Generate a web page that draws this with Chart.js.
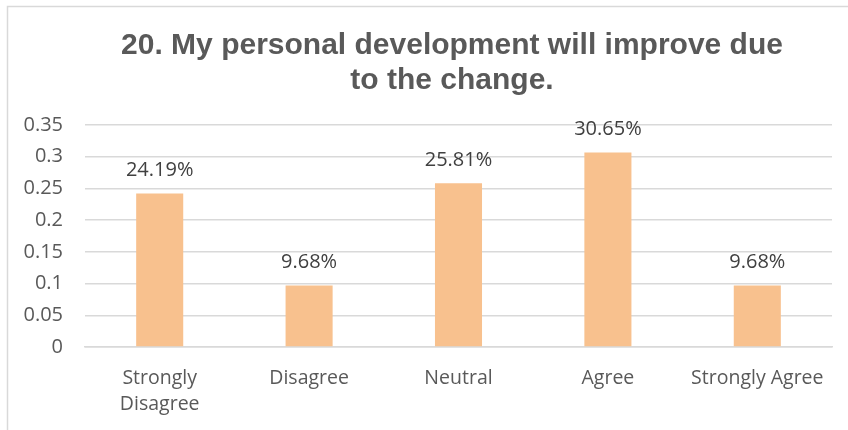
<!DOCTYPE html>
<html>
<head>
<meta charset="utf-8">
<script src="https://cdn.jsdelivr.net/npm/chart.js@4.4.1/dist/chart.umd.min.js"></script>
<style>
  html, body { margin: 0; padding: 0; background: #fff; }
  #wrap { width: 848px; height: 430px; }
</style>
</head>
<body>
<div id="wrap"><canvas id="myChart" width="848" height="430"></canvas></div>
<script>
const categories = [['Strongly', 'Disagree'], 'Disagree', 'Neutral', 'Agree', 'Strongly Agree'];
const shares = [0.2419, 0.0968, 0.2581, 0.3065, 0.0968];
const shareLabels = ['24.19%', '9.68%', '25.81%', '30.65%', '9.68%'];
const titleLines = ['20. My personal development will improve due', 'to the change.'];

const gridColor = '#d9d9d9';
const textColor = '#595959';
const bodyFont = '"Open Sans", Lato, sans-serif';

// light frame on the left and top edges, plus the two-line heading
const framePlugin = {
    id: 'frame',
    beforeDraw(chart) {
        const c = chart.ctx;
        c.save();
        c.strokeStyle = '#d9d9d9';
        c.lineWidth = 1.5;
        c.beginPath();
        c.moveTo(7.5, chart.height);
        c.lineTo(7.5, 6.5);
        c.lineTo(chart.width, 6.5);
        c.stroke();

        c.font = 'bold 30px "Liberation Sans", Arial, sans-serif';
        c.fillStyle = textColor;
        c.textAlign = 'center';
        c.textBaseline = 'middle';
        titleLines.forEach((line, i) => c.fillText(line, 452, 46 + i * 35));
        c.restore();
    }
};

// percentage text above every bar
const valueLabels = {
    id: 'valueLabels',
    afterDatasetsDraw(chart) {
        const c = chart.ctx;
        const meta = chart.getDatasetMeta(0);
        c.save();
        c.font = '20px ' + bodyFont;
        c.fillStyle = '#404040';
        c.textAlign = 'center';
        c.textBaseline = 'middle';
        meta.data.forEach((bar, i) => {
            c.fillText(shareLabels[i], bar.x, bar.y - 23);
        });
        c.restore();
    }
};

const ctx = document.getElementById('myChart');
new Chart(ctx, {
    type: 'bar',
    data: {
        labels: categories,
        datasets: [{
            data: shares,
            backgroundColor: '#f8c18e',
            barPercentage: 0.315,
            categoryPercentage: 1
        }]
    },
    options: {
        responsive: false,
        animation: false,
        layout: { padding: { left: 12, right: 16, top: 125, bottom: 0 } },
        plugins: {
            legend: { display: false },
            tooltip: { enabled: false },
            title: { display: false }
        },
        scales: {
            x: {
                afterFit(scale) { scale.height = 83; },
                grid: { display: false },
                border: { display: true, color: gridColor, width: 1.5 },
                ticks: { color: textColor, font: { family: bodyFont, size: 19.5, lineHeight: 1.35 }, padding: 10, maxRotation: 0 }
            },
            y: {
                min: 0,
                max: 0.35,
                afterFit(scale) { scale.width = 73; },
                border: { display: false },
                grid: { color: gridColor, lineWidth: 1.5, drawTicks: false },
                ticks: {
                    stepSize: 0.05,
                    color: textColor,
                    font: { family: bodyFont, size: 20 },
                    padding: 22,
                    callback: v => String(+v.toFixed(2))
                }
            }
        }
    },
    plugins: [framePlugin, valueLabels]
});
</script>
</body>
</html>
